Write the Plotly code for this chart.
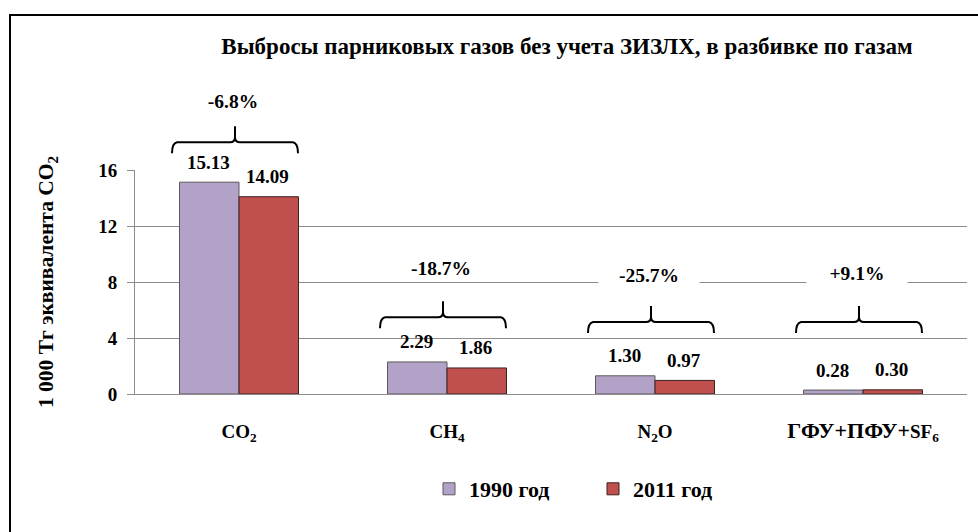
import plotly.graph_objects as go

# ---------------- data ----------------
categories = ["CO<sub>2</sub>", "CH<sub>4</sub>", "N<sub>2</sub>O", "ГФУ+ПФУ+SF<sub>6</sub>"]
series_names = ["1990 год", "2011 год"]
values_1990 = [15.13, 2.29, 1.30, 0.28]
values_2011 = [14.09, 1.86, 0.97, 0.30]
change_labels = ["-6.8%", "-18.7%", "-25.7%", "+9.1%"]
y_ticks = [0, 4, 8, 12, 16]
title_text = "Выбросы парниковых газов без учета ЗИЗЛХ, в разбивке по газам"
y_title = "1 000 Тг эквивалента CO<sub>2</sub>"

# layout helpers (positions of braces / change labels, in axis units)
brace_level = [17.2, 4.7, 4.36, 4.36]
label_level = [20.9, 8.93, 8.5, 8.64]

# ---------------- geometry ----------------
W, H = 978, 532
ML, MR, MT, MB = 135, 11, 170, 138
PW, PH = W - ML - MR, H - MT - MB
YMAX = 16
FONT = "Liberation Serif, Times New Roman, serif"
colors = ["#B3A2C7", "#C0504D"]
outline = ["#5B5B5B", "#3A2020"]


def px_x(px):
    return (px - ML) / PW


def px_y(py):
    return (H - MB - py) / PH


def val_py(v):
    return (H - MB) - v * PH / YMAX


def tick_label(c):
    if c.startswith("ГФУ"):
        return '<b><span style="font-size:22px">ГФУ+ПФУ+</span>SF<sub>6</sub></b>'
    return f"<b>{c}</b>"


fig = go.Figure()
for name, vals, c, oc in zip(series_names, [values_1990, values_2011], colors, outline):
    fig.add_trace(go.Bar(
        x=categories, y=vals, name=f"<b>{name}</b>",
        marker=dict(color=c, line=dict(color=oc, width=1)),
        hoverinfo="skip",
    ))

annotations = []
# value labels above bars
for vals, sh in zip([values_1990, values_2011], [-29.5, 29.5]):
    for cat, v in zip(categories, vals):
        annotations.append(dict(
            x=cat, y=v, xref="x", yref="y", text=f"<b>{v:.2f}</b>",
            showarrow=False, xshift=sh - 1, yshift=20, xanchor="center", yanchor="middle",
            font=dict(family=FONT, size=19, color="black"),
        ))

shapes = []
# braces and change labels
for i, lab in enumerate(change_labels):
    cx = ML + (i + 0.5) * PW / 4 - 4
    half = 63
    yb = val_py(brace_level[i])
    yh = yb - 11
    yt = yb - 27
    xl, xr = cx - half, cx + half
    r = 5
    pts = [
        ("M", xl, yb), ("Q", xl, yh + 1), ("", xl + r, yh),
        ("L", cx - r, yh), ("Q", cx, yh), ("", cx, yh - r),
        ("L", cx, yt), ("M", cx, yh - r), ("Q", cx, yh), ("", cx + r, yh),
        ("L", xr - r, yh), ("Q", xr, yh + 1), ("", xr, yb),
    ]
    path = " ".join(f"{cmd}{px_x(x):.5f},{px_y(y):.5f}" for cmd, x, y in pts)
    shapes.append(dict(type="path", path=path, xref="paper", yref="paper",
                       line=dict(color="black", width=2)))
    annotations.append(dict(
        x=px_x(ML + (i + 0.5) * PW / 4 - 6), y=label_level[i] / YMAX,
        xref="paper", yref="paper", text=f"<b>{lab}</b>", showarrow=False,
        xanchor="center", yanchor="middle",
        width=96, bgcolor="white", borderpad=2,
        font=dict(family=FONT, size=19.5, color="black"),
    ))

# outer frame (left and top edges visible)
shapes.append(dict(type="path", xref="paper", yref="paper",
                   path=f"M{px_x(10):.5f},{px_y(560):.5f} L{px_x(10):.5f},{px_y(15):.5f} L{px_x(990):.5f},{px_y(15):.5f}",
                   line=dict(color="black", width=2)))

fig.update_layout(
    width=W, height=H,
    margin=dict(l=ML, r=MR, t=MT, b=MB, pad=0),
    paper_bgcolor="white", plot_bgcolor="white",
    barmode="group", bargap=0.428, bargroupgap=0,
    font=dict(family=FONT, size=19, color="black"),
    title=dict(text=f"<b>{title_text}</b>", x=px_x(567), xref="paper", xanchor="center",
               y=1 - 46 / H, yref="container", yanchor="middle",
               font=dict(family=FONT, size=23, color="black")),
    showlegend=True,
    legend=dict(orientation="h", x=px_x(593), xanchor="center", y=px_y(489), yanchor="middle",
                font=dict(family=FONT, size=22, color="black"), entrywidth=119,
                bgcolor="rgba(0,0,0,0)"),
    annotations=annotations,
    shapes=shapes,
)

fig.update_xaxes(
    type="category", range=[-0.5, 3.5], showline=True, linecolor="#8C8C8C", linewidth=1,
    ticks="", showgrid=False, ticklabelstandoff=20,
    tickvals=categories, ticktext=[tick_label(c) for c in categories],
    tickfont=dict(family=FONT, size=19, color="black"),
)
fig.update_yaxes(
    range=[0, YMAX], tickvals=y_ticks, ticktext=[f"<b>{t}</b>" for t in y_ticks],
    showline=True, linecolor="#8C8C8C", linewidth=1,
    ticks="outside", ticklen=7, tickcolor="#8C8C8C", ticklabelstandoff=6,
    showgrid=True, gridcolor="#8C8C8C", gridwidth=1, zeroline=False,
    tickfont=dict(family=FONT, size=19, color="black"),
    title=dict(text=f"<b>{y_title}</b>", standoff=38, font=dict(family=FONT, size=21.5, color="black")),
)

fig.write_html("out.html", config={"displayModeBar": False},
               post_script="document.body.style.margin='0px';")
